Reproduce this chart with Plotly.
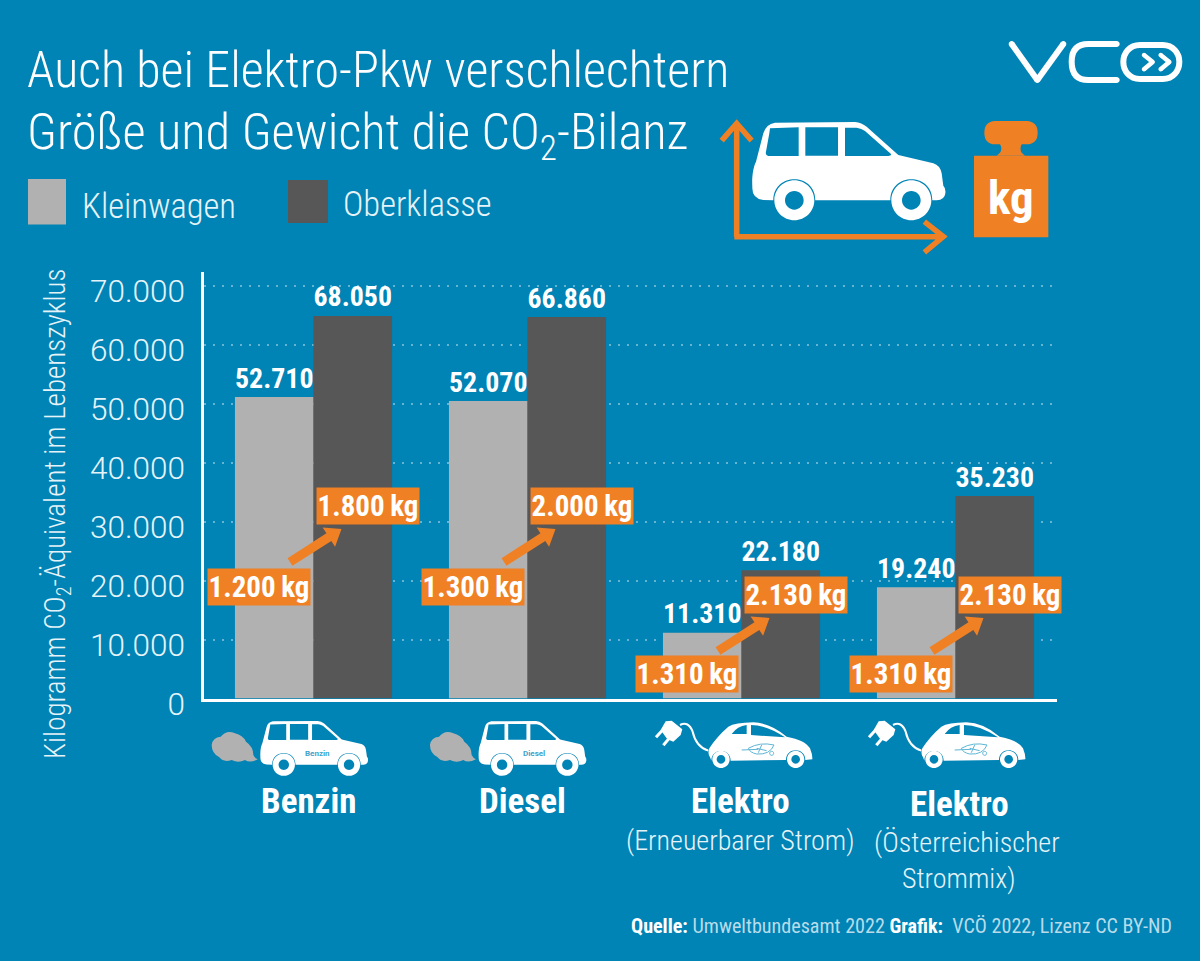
import re

import plotly.graph_objects as go

# values printed over the bars
categories = ["Benzin", "Diesel", "Elektro (Erneuerbarer Strom)", "Elektro (Österreichischer Strommix)"]
printed_small = [52710, 52070, 11310, 19240]
printed_large = [68050, 66860, 22180, 35230]
# bar heights (the graphic does not draw them quite to scale)
height_small = [51100, 50420, 11150, 18850]
height_large = [64830, 64660, 21730, 34320]
# vehicle weights in the orange boxes
weight_small = [1200, 1300, 1310, 1310]
weight_large = [1800, 2000, 2130, 2130]
weight_small_y = [18900, 18900, 4150, 4150]
weight_large_y = [32630, 32630, 17540, 17540]
y_ticks = [0, 10000, 20000, 30000, 40000, 50000, 60000, 70000]

BG = "#0083b5"
LIGHT = "#b1b1b1"
DARK = "#575757"
ORANGE = "#f08024"
WHITE = "#ffffff"
SOFT = "#e6f3f8"
NARROW = "Roboto Condensed"
W, H = 1200, 961

# axis placement in page pixels
LEFT, RIGHT, TOP, ZERO = 204.3, 1057, 272, 698.5
PX_PER_UNIT = 5.9 / 1000
CENTER0, STEP = 313.5, 214


def de(v):
    return f"{v:,}".replace(",", ".")


def paper_path(path, s=1.0, ox=0.0, oy=0.0):
    """path in local coords -> paper coords; only M L Q C Z, x and y alternate"""
    idx = [0]

    def conv(m):
        v = float(m.group())
        i = idx[0]
        idx[0] += 1
        if i % 2 == 0:
            return f"{(ox + v * s) / W:.5f}"
        return f"{1 - (oy + v * s) / H:.5f}"

    return re.sub(r"-?\d+\.?\d*", conv, path)


def circle(cx, cy, r):
    k = 0.5523 * r
    return (f"M {cx + r} {cy} C {cx + r} {cy + k} {cx + k} {cy + r} {cx} {cy + r} "
            f"C {cx - k} {cy + r} {cx - r} {cy + k} {cx - r} {cy} "
            f"C {cx - r} {cy - k} {cx - k} {cy - r} {cx} {cy - r} "
            f"C {cx + k} {cy - r} {cx + r} {cy - k} {cx + r} {cy} Z ")


def arch(x_from, x_to, y, r):
    # half circle over a wheel, right to left
    k = 1.333 * r
    return f"C {x_from} {y - k} {x_to} {y - k} {x_to} {y} "


shapes = []


def fill(path, color, s=1.0, ox=0.0, oy=0.0):
    shapes.append(dict(type="path", path=paper_path(path, s, ox, oy), xref="paper", yref="paper",
                       fillcolor=color, line=dict(width=0), layer="above"))


def stroke(path, color, width, s=1.0, ox=0.0, oy=0.0):
    shapes.append(dict(type="path", path=paper_path(path, s, ox, oy), xref="paper", yref="paper",
                       line=dict(color=color, width=width), layer="above"))


def round_lines(points, color, width, s, ox, oy):
    for a, b in zip(points[:-1], points[1:]):
        stroke(f"M {a[0]} {a[1]} L {b[0]} {b[1]}", color, width, s, ox, oy)
    for p in points:
        fill(circle(p[0], p[1], width / 2 / s), color, s, ox, oy)


# big car, drawn in 3x coordinates
CAR_BODY = ("M 157 500 C 155 470 160 440 168 425 L 190 340 Q 198 312 225 308 L 465 306 "
            "Q 485 308 500 320 L 595 405 L 700 430 Q 720 436 725 460 L 730 497 "
            "Q 738 505 736 520 Q 734 540 710 541 L 697 541 " + arch(697, 571, 541, 63) +
            "L 346 541 " + arch(346, 220, 541, 63) + "L 190 540 Q 155 535 157 500 Z "
            "M 210 325 L 296 322 L 296 408 L 205 408 Q 195 406 198 395 L 208 340 Z "
            "M 316 322 L 414 322 L 414 407 L 316 407 Z "
            "M 435 323 L 470 323 Q 485 325 495 333 L 573 402 Q 575 408 565 408 L 435 408 Z ")
CAR_WHEELS = circle(283, 541, 60) + circle(283, 541, 28) + circle(634, 541, 60) + circle(634, 541, 28)

fill(CAR_BODY, WHITE, 1 / 3, 700, 20)
fill(CAR_WHEELS, WHITE, 1 / 3, 700, 20)

# orange size axes
stroke("M 110 650 L 110 312 M 65 362 L 110 310 L 155 362 M 103 650 L 728 650 M 673 605 L 730 650 L 673 697",
       ORANGE, 5.5, 1 / 3, 700, 20)

# weight
fill("M 822 407 L 1045 407 L 1045 652 L 822 652 Z", ORANGE, 1 / 3, 700, 20)
fill("M 885 303 L 980 303 Q 1013 305 1013 338 Q 1013 372 980 373 L 965 373 Q 958 385 965 398 L 975 407 "
     "L 890 407 L 900 398 Q 908 385 900 373 L 885 373 Q 853 372 853 338 Q 853 305 885 303 Z",
     ORANGE, 1 / 3, 700, 20)

# logo
round_lines([(935, 72), (1012, 180), (1090, 72)], WHITE, 6, 1 / 3, 700, 20)
stroke("M 1250 72 L 1165 72 Q 1115 72 1115 125 Q 1115 180 1165 180 L 1250 180", WHITE, 6, 1 / 3, 700, 20)
fill(circle(1250, 72, 9), WHITE, 1 / 3, 700, 20)
fill(circle(1250, 180, 9), WHITE, 1 / 3, 700, 20)
stroke("M 1320 75 L 1388 75 C 1420 75 1438 100 1438 126 C 1438 152 1420 177 1388 177 L 1320 177 "
       "C 1288 177 1270 152 1270 126 C 1270 100 1288 75 1320 75 Z", WHITE, 6, 1 / 3, 700, 20)
round_lines([(1332, 105), (1358, 126), (1332, 148)], WHITE, 4.5, 1 / 3, 700, 20)
round_lines([(1382, 105), (1408, 126), (1382, 148)], WHITE, 4.5, 1 / 3, 700, 20)

# small combustion cars with exhaust clouds
CLOUD = ("M 203 238 Q 180 250 165 240 Q 145 250 125 240 Q 100 248 88 232 Q 65 220 65 195 Q 68 172 92 170 "
         "Q 110 148 135 160 Q 158 165 168 185 Q 190 200 190 225 Q 195 235 203 238 Z")
for shift in [0, 218.3]:
    fill(CLOUD, LIGHT, 1 / 3, 190 + shift, 680)
    s = 108 / 581
    ox = 260 + shift - 155 * s
    oy = 721 - 306 * s
    fill(CAR_BODY, WHITE, s, ox, oy)
    fill(CAR_WHEELS, WHITE, s, ox, oy)

# small electric cars with plug
EV_BODY = ("M 268 205 Q 290 170 325 140 Q 345 128 400 127 Q 450 128 500 170 Q 555 180 570 205 "
           "Q 578 225 577 238 L 556 240 " + arch(556, 498, 240, 29) + "L 332 242 " + arch(332, 274, 242, 29) +
           "L 270 232 Q 262 220 268 205 Z "
           "M 335 162 Q 352 138 380 135 L 380 162 Z "
           "M 393 135 Q 440 135 495 172 L 393 165 Z ")
EV_WHEELS = circle(303, 238, 26) + circle(303, 238, 13) + circle(527, 238, 26) + circle(527, 238, 13)
EV_PLUG = "M 137 124 L 155 122 L 187 148 L 182 165 L 160 185 L 142 178 L 122 150 Z "
EV_LEAF = ("M 365 210 L 415 208 M 385 205 Q 420 185 462 195 Q 450 225 410 222 Q 390 218 385 205 "
           "M 410 205 L 440 212 M 425 195 L 415 218")
for shift in [0, 213]:
    fill(EV_BODY, WHITE, 1 / 3, 620 + shift, 680)
    fill(EV_WHEELS, WHITE, 1 / 3, 620 + shift, 680)
    fill(EV_PLUG, WHITE, 1 / 3, 620 + shift, 680)
    stroke("M 180 135 Q 205 122 218 155 Q 228 200 265 212", WHITE, 2, 1 / 3, 620 + shift, 680)
    stroke("M 130 148 L 108 172 M 150 172 L 130 196", WHITE, 3, 1 / 3, 620 + shift, 680)
    stroke(EV_LEAF, "#5db5d6", 1, 1 / 3, 620 + shift, 680)
    stroke(circle(455, 220, 6), "#5db5d6", 1, 1 / 3, 620 + shift, 680)

# legend swatches
fill("M 28 179 L 66 179 L 66 224.5 L 28 224.5 Z", LIGHT)
fill("M 288 180 L 328 180 L 328 223 L 288 223 Z", DARK)

# arrows between the weight boxes
for i in range(4):
    c = CENTER0 + i * STEP
    y0 = 562 if i < 2 else 651
    tx, ty = c - 23.5, y0
    hx, hy = c + 28, y0 - 33
    dx, dy = hx - tx, hy - ty
    n = (dx * dx + dy * dy) ** 0.5
    ux, uy = dx / n, dy / n
    nx, ny = -uy, ux
    bx, by = hx - ux * 15, hy - uy * 15
    pts = [(tx + nx * 4.5, ty + ny * 4.5), (bx + nx * 4.5, by + ny * 4.5), (bx + nx * 11.5, by + ny * 11.5),
           (hx, hy), (bx - nx * 11.5, by - ny * 11.5), (bx - nx * 4.5, by - ny * 4.5),
           (tx - nx * 4.5, ty - ny * 4.5)]
    fill("M " + " L ".join(f"{round(a, 2)} {round(b, 2)}" for a, b in pts) + " Z", ORANGE)


annotations = []


def label(text, x, y, size, color=WHITE, family=NARROW, xanchor="left", angle=0, weight=300):
    annotations.append(dict(text=text, x=x / W, y=1 - y / H, xref="paper", yref="paper", showarrow=False,
                            xanchor=xanchor, yanchor="middle", textangle=angle,
                            font=dict(family=family, size=size, color=color, weight=weight)))


# title and legend text
label("Auch bei Elektro-Pkw verschlechtern", 25, 70, 50)
label("Größe und Gewicht die CO<sub>2</sub>-Bilanz", 25, 135, 50.5)
label("Kleinwagen", 80, 206, 34.5, SOFT)
label("Oberklasse", 341, 204, 34.5, SOFT)
label("kg", 1011, 197, 47, xanchor="center", weight=700)

# y axis title
label("Kilogramm CO<sub>2</sub>-Äquivalent im Lebenszyklus", 57, 514, 29, SOFT, xanchor="center", angle=-90)

# category captions
label("Benzin", 308, 801, 35, xanchor="center", weight=700)
label("Diesel", 522, 801, 35, xanchor="center", weight=700)
label("Elektro", 740, 801, 35, xanchor="center", weight=700)
label("Elektro", 959, 804, 35, xanchor="center", weight=700)
label("(Erneuerbarer Strom)", 740, 840, 28, SOFT, xanchor="center")
label("(Österreichischer", 967, 842, 28, SOFT, xanchor="center")
label("Strommix)", 959, 878, 28, SOFT, xanchor="center")

# small names on the cars
label("Benzin", 317, 753, 8, "#3ea3cb", xanchor="center", family="Roboto", weight=700)
label("Diesel", 534, 753, 8, "#3ea3cb", xanchor="center", family="Roboto", weight=700)

# source line
label("<b>Quelle:</b> <span style='color:#b8dcea'>Umweltbundesamt 2022</span> <b>Grafik:</b> "
      "<span style='color:#b8dcea'> VCÖ 2022, Lizenz CC BY-ND</span>", 629, 926, 20.1, WHITE, weight=400)

# orange weight boxes, placed on the bar axes
for i in range(4):
    for w, y, off in [(weight_small[i], weight_small_y[i], -54.5 / STEP), (weight_large[i], weight_large_y[i], 54.5 / STEP)]:
        annotations.append(dict(text=f"{de(w)}\u2009kg", x=i + off, y=y, xref="x", yref="y", showarrow=False,
                                width=102, height=36, bgcolor=ORANGE, borderpad=0,
                                font=dict(family=NARROW, size=29, color=WHITE, weight=700)))

fig = go.Figure()
fig.add_trace(go.Bar(x=categories, y=height_small, name="Kleinwagen", marker=dict(color=LIGHT, line=dict(width=0)),
                     text=[de(v) for v in printed_small], textposition="outside", cliponaxis=False,
                     textfont=dict(family=NARROW, size=30, color=WHITE, weight=700)))
fig.add_trace(go.Bar(x=categories, y=height_large, name="Oberklasse", marker=dict(color=DARK, line=dict(width=0)),
                     text=[de(v) for v in printed_large], textposition="outside", cliponaxis=False,
                     textfont=dict(family=NARROW, size=30, color=WHITE, weight=700)))

fig.update_layout(
    width=W,
    height=H,
    margin=dict(l=0, r=0, t=0, b=0, autoexpand=False),
    paper_bgcolor=BG,
    plot_bgcolor=BG,
    barmode="group",
    bargap=0.266,
    bargroupgap=0,
    showlegend=False,
    separators=",.",
    shapes=shapes,
    annotations=annotations,
    xaxis=dict(
        domain=[LEFT / W, RIGHT / W],
        range=[(LEFT - CENTER0) / STEP, (RIGHT - CENTER0) / STEP],
        type="category",
        automargin=False,
        showticklabels=False,
        ticks="",
        showgrid=False,
        zeroline=False,
        showline=True,
        linecolor=WHITE,
        linewidth=3,
    ),
    yaxis=dict(
        domain=[1 - ZERO / H, 1 - TOP / H],
        range=[0, (ZERO - TOP) / PX_PER_UNIT],
        automargin=False,
        tickvals=y_ticks,
        tickformat=",d",
        ticks="",
        ticklabelstandoff=10,
        ticklabelshift=5,
        tickfont=dict(family="Roboto", size=31.5, color=SOFT, weight=300),
        showgrid=True,
        gridcolor="rgba(255,255,255,0.4)",
        gridwidth=2,
        griddash="2px,7px",
        zeroline=False,
        showline=True,
        linecolor=WHITE,
        linewidth=3,
    ),
)

fig.write_html("out.html", config=dict(displayModeBar=False),
               post_script="document.body.style.margin='0';document.documentElement.style.overflow='hidden';")
